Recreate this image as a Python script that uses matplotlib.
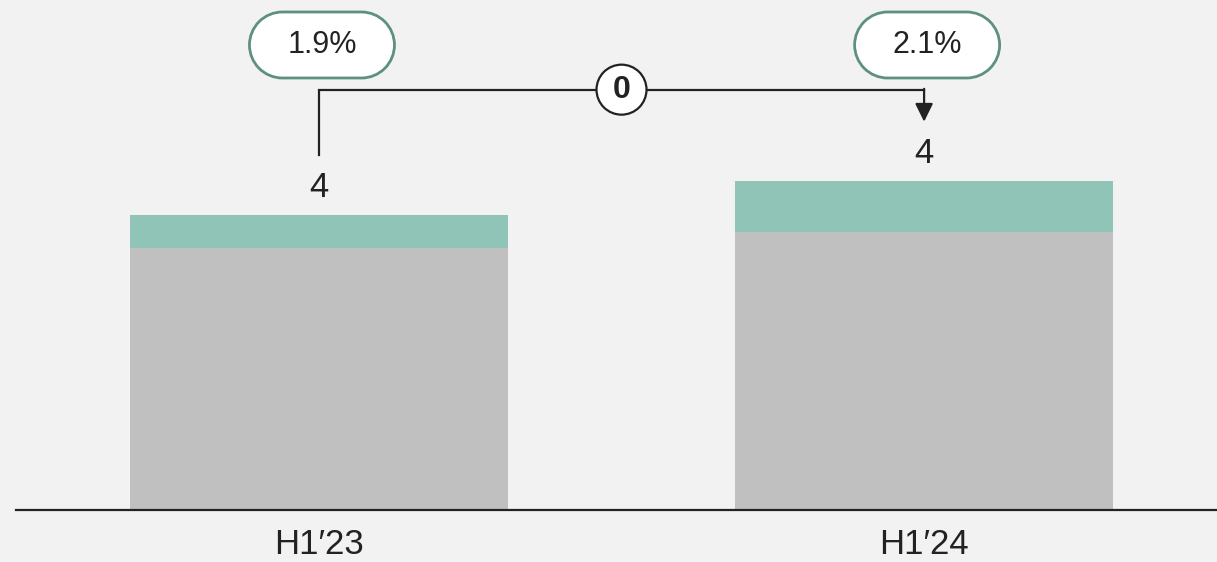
import numpy as np
import matplotlib.pyplot as plt
import matplotlib as mpl
from matplotlib.patches import PathPatch, Circle
from matplotlib.path import Path
from matplotlib.transforms import ScaledTranslation

mpl.rc("font", family=["Liberation Sans", "DejaVu Sans"])

# ----- data -----
periods = ["H1\u203223", "H1\u203224"]
base_vals = [3.19, 3.38]
top_vals = [0.40, 0.62]
pct_labels = ["1.9%", "2.1%"]
change_label = "0"

# ----- style -----
bg = "#f2f2f2"
gray = "#c0c0c0"
teal = "#8fc4b6"
pill_edge = "#5e9080"
ink = "#222222"


def pill_path(w, h):
    # stadium shape centred on (0, 0), units in inches
    r = h / 2
    c = w / 2 - r
    right = Path.arc(-90, 90)
    left = Path.arc(90, 270)
    verts = np.vstack([right.vertices * r + [c, 0], left.vertices * r + [-c, 0], [[c, -r]]])
    codes = np.concatenate([right.codes, left.codes, [Path.CLOSEPOLY]])
    codes[len(right.codes)] = Path.LINETO
    return Path(verts, codes)


totals = np.array(base_vals) + np.array(top_vals)
x = np.arange(len(periods))

fig = plt.figure(figsize=(12.17, 5.62), dpi=100, facecolor=bg)
ax = fig.add_axes([0, 52 / 562, 1, 510 / 562])
ax.set_facecolor(bg)
ax.set_xlim(-0.527, 1.484)
ax.set_ylim(0, 6.2)
for s in ax.spines.values():
    s.set_visible(False)
ax.set_yticks([])

ax.bar(x, base_vals, width=0.625, color=gray)
ax.bar(x, top_vals, bottom=base_vals, width=0.625, color=teal)

ax.axhline(0, xmin=16 / 1217, xmax=1, color=ink, lw=1.6, clip_on=False)
ax.set_xticks(x, periods, fontsize=25, color=ink)
ax.tick_params(axis="x", length=0, pad=13)

# value labels
for xi, t in zip(x, totals):
    ax.text(xi, t + 0.33, f"{t:.0f}", ha="center", va="center", fontsize=25, color=ink)

# connector
y_line = 5.11
ax.plot([x[0], x[0], x[1]], [totals[0] + 0.72, y_line, y_line], color=ink, lw=1.6,
        solid_joinstyle="miter", clip_on=False)
ax.annotate("", xy=(x[1], totals[1] + 0.72), xytext=(x[1], y_line + 0.01),
            arrowprops=dict(arrowstyle="-|>,head_length=0.55,head_width=0.27",
                            mutation_scale=20, color=ink, lw=1.6, shrinkA=0, shrinkB=0),
            annotation_clip=False)

xm = (x[0] + x[1]) / 2
circ = Circle((0, 0), 0.25, transform=fig.dpi_scale_trans + ScaledTranslation(xm, y_line, ax.transData),
              facecolor="white", edgecolor=ink, lw=1.6, zorder=5)
ax.add_patch(circ)
ax.text(xm, y_line, change_label, ha="center", va="center", fontsize=23,
        fontweight="bold", color=ink, zorder=6)

# percentage pills
for xi, lab in zip(x, pct_labels):
    pill = PathPatch(pill_path(1.45, 0.66),
                     transform=fig.dpi_scale_trans + ScaledTranslation(xi + 0.005, 5.653, ax.transData),
                     facecolor="white", edgecolor=pill_edge, lw=2, zorder=5, clip_on=False)
    ax.add_patch(pill)
    ax.text(xi + 0.005, 5.653, lab, ha="center", va="center", fontsize=22, color=ink, zorder=6)

fig.savefig("out.png", dpi=100, facecolor=bg)
